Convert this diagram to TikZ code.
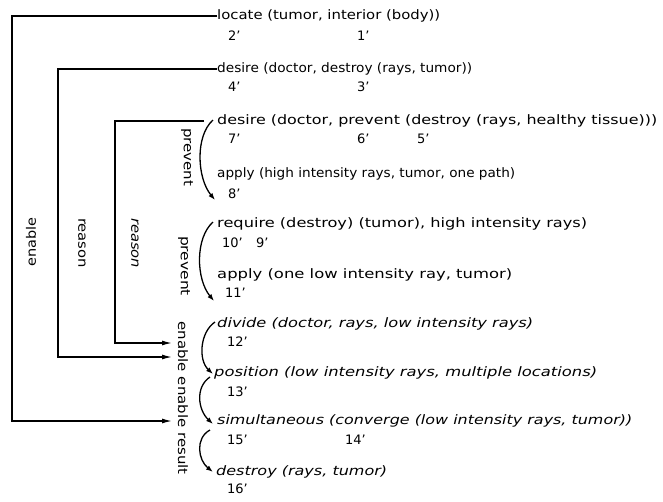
\documentclass[tikz,border=0pt]{standalone}
\usepackage{fontspec}
\setmainfont{DejaVu Sans}
\usepackage{graphicx}
\usetikzlibrary{arrows.meta}
\newsavebox\fitbox
\newcommand\fitto[2]{\sbox\fitbox{#2}\pgfmathsetmacro\fitratio{#1/(\the\wd\fitbox)}\scalebox{\fitratio}[1]{\usebox\fitbox}}
\tikzset{
  ln/.style={anchor=west, inner sep=0pt, text height=10.4pt, text depth=3.2pt, font=\fontsize{13}{15}\selectfont},
  num/.style={anchor=west, inner sep=0pt, text height=10.4pt, text depth=3.2pt, font=\fontsize{13}{15}\selectfont},
  vlab/.style={inner sep=0pt, font=\fontsize{13}{15}\selectfont},
  conn/.style={line width=1.3pt, -{Latex[length=10pt,width=5pt]}},
  curv/.style={line width=1.3pt, -{Latex[length=7pt,width=5pt]}},
}
\begin{document}
\begin{tikzpicture}[x=1pt,y=-1pt]
\useasboundingbox (0,0) rectangle (663,501);
% text lines
\node[ln] (t1) at (217,16) {\fitto{223}{locate (tumor, interior (body))}};
\node[ln] (t2) at (217,69) {\fitto{255}{desire (doctor, destroy (rays, tumor))}};
\node[ln] (t3) at (217,121) {\fitto{440}{desire (doctor, prevent (destroy (rays, healthy tissue)))}};
\node[ln] (t4) at (217,174) {\fitto{298}{apply (high intensity rays, tumor, one path)}};
\node[ln] (t5) at (217,224) {\fitto{370}{require (destroy) (tumor), high intensity rays)}};
\node[ln] (t6) at (217,275) {\fitto{295}{apply (one low intensity ray, tumor)}};
\node[ln] (t7) at (217,324) {\fitto{316}{\itshape divide (doctor, rays, low intensity rays)}};
\node[ln] (t8) at (214,373) {\fitto{383}{\itshape position (low intensity rays, multiple locations)}};
\node[ln] (t9) at (217,421) {\fitto{415}{\itshape simultaneous (converge (low intensity rays, tumor))}};
\node[ln] (t10) at (216,472) {\fitto{171}{\itshape destroy (rays, tumor)}};
% numbers
\node[num] (n2) at (228,37) {2’};
\node[num] (n1) at (357,37) {1’};
\node[num] (n4) at (228,88) {4’};
\node[num] (n3) at (357,88) {3’};
\node[num] (n7) at (228,140) {7’};
\node[num] (n6) at (357,140) {6’};
\node[num] (n5) at (417,140) {5’};
\node[num] (n8) at (228,195) {8’};
\node[num] (n10) at (222,244) {10’};
\node[num] (n9) at (256,244) {9’};
\node[num] (n11) at (225,294) {11’};
\node[num] (n12) at (227,343) {12’};
\node[num] (n13) at (227,393) {13’};
\node[num] (n15) at (227,441) {15’};
\node[num] (n14) at (345,441) {14’};
\node[num] (n16) at (227,490) {16’};
% vertical labels
\node[vlab, rotate=-90] (pv1) at (187,157) {\fitto{58}{prevent}};
\node[vlab, rotate=-90] (pv2) at (184,266) {\fitto{60}{prevent}};
\node[vlab, rotate=-90] (eer) at (183,398) {\fitto{153}{enable enable result}};
\node[vlab, rotate=90] (en) at (31,242) {\fitto{49}{enable}};
\node[vlab, rotate=-90] (rs1) at (82,243) {\fitto{50}{reason}};
\node[vlab, rotate=-90] (rs2) at (135,243) {\fitto{50}{\itshape reason}};
% connectors from the left
\coordinate (a1) at (172,421);
\coordinate (a2) at (172,357);
\coordinate (a3) at (172,343);
\coordinate (k1) at (12,0);
\coordinate (k2) at (58,0);
\coordinate (k3) at (115,0);
\draw[conn] (t1.west) -- (t1.west -| k1) |- (a1);
\draw[conn] (t2.west) -- (t2.west -| k2) |- (a2);
\draw[conn] ([xshift=-13pt]t3.west) -- (t3.west -| k3) |- (a3);
% curved arrows
\draw[curv] ([xshift=-4pt,yshift=1pt]t3.west) .. controls +(-18,16) and +(-18,-22) .. ([xshift=-13pt,yshift=-5pt]n8.west);
\draw[curv] ([xshift=-4pt,yshift=2pt]t5.west) .. controls +(-18,16) and +(-18,-22) .. ([xshift=-11pt,yshift=-7pt]n11.west);
\draw[curv] ([xshift=-2pt,yshift=2pt]t7.west) .. controls +(-15,10) and +(-15,-14) .. ([xshift=-1pt,yshift=-1pt]t8.west);
\draw[curv] ([xshift=-4pt,yshift=-4pt]t8.west) .. controls +(-15,10) and +(-15,-14) .. ([xshift=-4pt,yshift=-3pt]t9.west);
\draw[curv] ([xshift=-7pt,yshift=-9pt]t9.west) .. controls +(-15,8) and +(-15,-12) .. ([xshift=-3pt]t10.west);
\end{tikzpicture}
\end{document}
